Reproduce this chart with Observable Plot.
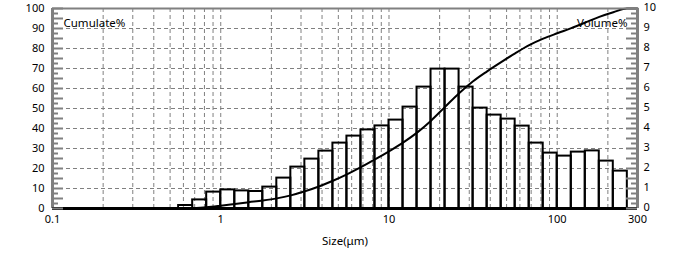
<!DOCTYPE html>
<html>
<head>
<meta charset="utf-8">
<script src="https://cdn.jsdelivr.net/npm/d3@7"></script>
<script src="https://cdn.jsdelivr.net/npm/@observablehq/plot@0.6"></script>
<style>
  html, body { margin: 0; padding: 0; background: #fff; }
  #chart svg { display: block; }
</style>
</head>
<body>
<div id="chart"></div>
<script>
// ---- data ----
const sizeEdges = [0.562, 0.681, 0.825, 1.0, 1.212, 1.468, 1.778, 2.154, 2.61, 3.162, 3.831, 4.642, 5.623, 6.813, 8.254, 10.0, 12.12, 14.68, 17.78, 21.54, 26.1, 31.62, 38.31, 46.42, 56.23, 68.13, 82.54, 100.0, 121.2, 146.8, 177.8, 215.4, 261.0];
const volumePct = [0.15, 0.43, 0.82, 0.93, 0.88, 0.85, 1.07, 1.52, 2.07, 2.47, 2.87, 3.27, 3.62, 3.93, 4.13, 4.42, 5.07, 6.07, 6.97, 6.97, 6.07, 5.02, 4.67, 4.47, 4.12, 3.27, 2.77, 2.62, 2.82, 2.88, 2.37, 1.87];
const cumSizes = [0.562, 0.681, 0.825, 1.0, 1.212, 1.468, 1.778, 2.154, 2.61, 3.162, 3.831, 4.642, 5.623, 6.813, 8.254, 10.0, 12.12, 14.68, 17.78, 21.54, 26.1, 31.62, 38.31, 46.42, 56.23, 68.13, 82.54, 100.0, 121.2, 146.8, 177.8, 215.4, 261.0, 300];
const cumulatePct = [0, 0.15, 0.57, 1.38, 2.3, 3.16, 4.0, 5.06, 6.55, 8.59, 11.03, 13.86, 17.08, 20.65, 24.52, 28.6, 32.95, 37.95, 43.93, 50.8, 57.67, 63.65, 68.6, 73.2, 77.6, 81.67, 84.9, 87.6, 90.2, 92.98, 95.82, 98.15, 100, 100];

const xTicks = [0.1, 1, 10, 100, 300];
const xTickLabels = ["0.1", "1", "10", "100", "300"];
const xGrid = [0.2, 0.3, 0.4, 0.5, 0.6, 0.7, 0.8, 0.9, 1, 2, 3, 4, 5, 6, 7, 8, 9, 10, 20, 30, 40, 50, 60, 70, 80, 90, 100, 200];
const yTicks = [0, 10, 20, 30, 40, 50, 60, 70, 80, 90, 100];
const yGrid = [10, 20, 30, 40, 50, 60, 70, 80, 90];
const yLongTicks = [0, 5, 10, 15, 20, 25, 30, 35, 40, 45, 50, 55, 60, 65, 70, 75, 80, 85, 90, 95, 100];
const yShortTicks = [2.5, 7.5, 12.5, 17.5, 22.5, 27.5, 32.5, 37.5, 42.5, 47.5, 52.5, 57.5, 62.5, 67.5, 72.5, 77.5, 82.5, 87.5, 92.5, 97.5];

// ---- build tables ----
const bins = volumePct.map((v, i) => ({lo: sizeEdges[i], hi: sizeEdges[i + 1], v}));
const cum = cumSizes.map((s, i) => ({s, c: cumulatePct[i]}));

const W = 690, H = 253, ML = 52, MR = 53, MT = 8, MB = 45;
const FW = W - ML - MR;
const gray = "#808080";
const font = "Noto Sans";

const chart = Plot.plot({
  width: W,
  height: H,
  marginLeft: ML,
  marginRight: MR,
  marginTop: MT,
  marginBottom: MB,
  style: {fontFamily: font, fontSize: "11px", color: "#000", background: "#fff"},
  x: {type: "log", domain: [0.1, 300]},
  y: {domain: [0, 100]},
  marks: [
    // grid
    Plot.ruleX(xGrid, {x: d => d, stroke: gray, strokeWidth: 1, strokeDasharray: "4,3"}),
    Plot.ruleY(yGrid, {y: d => d, stroke: gray, strokeWidth: 1, strokeDasharray: "4,3"}),
    // histogram bars (Volume%, right axis => x10 on shared scale)
    Plot.rectY(bins, {x1: "lo", x2: "hi", y: d => d.v * 10, fill: "none", stroke: "#000", strokeWidth: 2}),
    // in-plot labels
    Plot.text(["Cumulate%"], {frameAnchor: "top-left", dx: 11, dy: 10, fontSize: 11.5, fill: "#000"}),
    Plot.text(["Volume%"], {frameAnchor: "top-right", dx: -10, dy: 10, fontSize: 11.5, fill: "#000"}),
    // cumulative curve
    Plot.line(cum, {x: "s", y: "c", stroke: "#000", strokeWidth: 2, curve: "monotone-x"}),
    // frame lines
    Plot.ruleY([100], {y: d => d, stroke: gray, strokeWidth: 2}),
    Plot.ruleX([0.1], {x: d => d, stroke: gray, strokeWidth: 3}),
    Plot.ruleX([300], {x: d => d, stroke: gray, strokeWidth: 3}),
    Plot.ruleY([0], {y: d => d, stroke: "#000", strokeWidth: 3}),
    // inward ticks, left
    Plot.tickY(yLongTicks, {y: d => d, stroke: gray, strokeWidth: 2, insetLeft: 0, insetRight: FW - 11}),
    Plot.tickY(yShortTicks, {y: d => d, stroke: gray, strokeWidth: 2, insetLeft: 0, insetRight: FW - 6}),
    // inward ticks, right
    Plot.tickY(yLongTicks, {y: d => d, stroke: gray, strokeWidth: 2, insetRight: 0, insetLeft: FW - 11}),
    Plot.tickY(yShortTicks, {y: d => d, stroke: gray, strokeWidth: 2, insetRight: 0, insetLeft: FW - 6}),
    // axes labels
    Plot.axisX({ticks: xTicks, tickFormat: (d) => xTickLabels[xTicks.indexOf(d)], tickSize: 0, tickPadding: 7, label: null, fontSize: 11, fill: "#000"}),
    Plot.axisY({anchor: "left", ticks: yTicks, tickFormat: d => String(d), tickSize: 0, tickPadding: 8, label: null, fontSize: 11, fill: "#000"}),
    Plot.axisY({anchor: "right", ticks: yTicks, tickFormat: d => String(d / 10), tickSize: 0, tickPadding: 6, label: null, fontSize: 11, fill: "#000", dy: -1}),
    Plot.text(["Size(μm)"], {frameAnchor: "bottom", dy: 33, lineAnchor: "middle", fontSize: 11.5, fill: "#000"})
  ]
});
document.getElementById("chart").appendChild(chart);
</script>
</body>
</html>
